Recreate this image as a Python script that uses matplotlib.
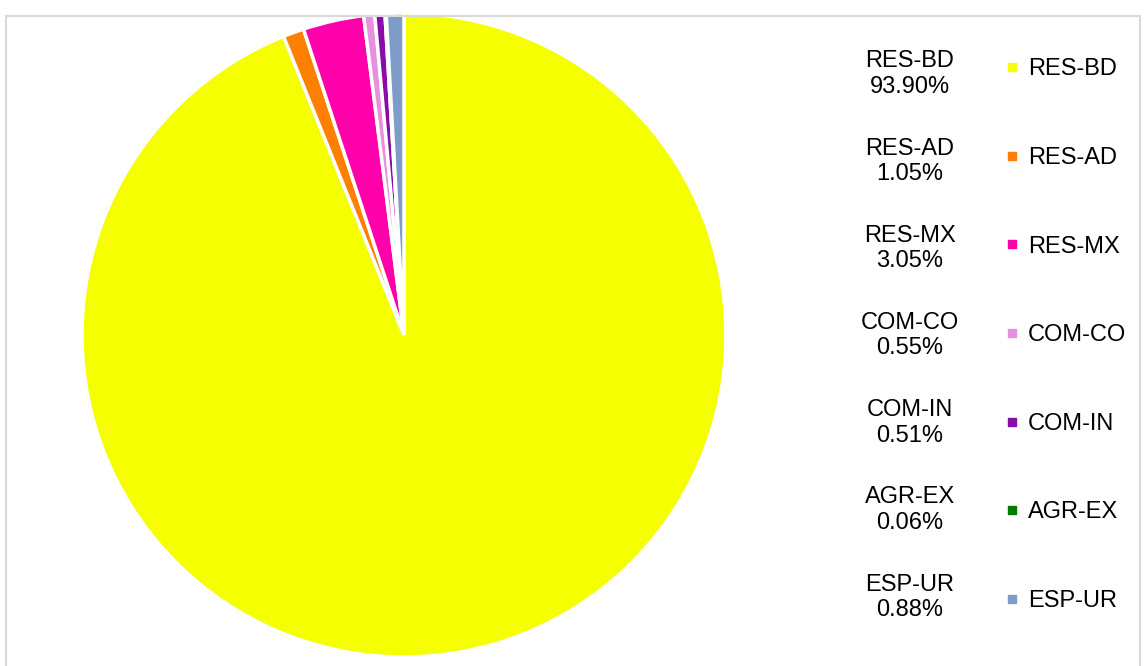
import matplotlib.pyplot as plt
from matplotlib.lines import Line2D
from matplotlib.patches import Rectangle

plt.rcParams['font.family'] = ['Liberation Sans', 'DejaVu Sans']

categories = ["RES-BD", "RES-AD", "RES-MX", "COM-CO", "COM-IN", "AGR-EX", "ESP-UR"]
shares = [93.90, 1.05, 3.05, 0.55, 0.51, 0.06, 0.88]
colors = ["#F5FF00", "#FF8000", "#FF00AA", "#E890E0", "#8A0CA8", "#007A00", "#7F9CC8"]

fig = plt.figure(figsize=(11.45, 6.66), dpi=100)

# light grey chart border
fig.patches.append(Rectangle((6 / 1145, -0.01), 1134 / 1145, 0.986, transform=fig.transFigure,
                             fill=False, edgecolor="#D9D9D9", linewidth=1.5))

ax = fig.add_axes([0.0716, 0.0135, 0.5624, 0.967])
ax.pie(shares, colors=colors, startangle=90, counterclock=False,
       wedgeprops=dict(edgecolor="white", linewidth=2.5))
ax.set_xlim(-1.0, 1.0)
ax.set_ylim(-1.0, 1.0)
ax.set_aspect("equal")

# data labels column on the right
y0 = 1 - 74 / 666
step = 87.2 / 666
for i, (cat, val) in enumerate(zip(categories, shares)):
    fig.text(910 / 1145, y0 - i * step, f"{cat}\n{val:.2f}%", ha="center", va="center",
             fontsize=17, linespacing=1.2)

handles = [Line2D([], [], marker="s", linestyle="none", markersize=6,
                  markerfacecolor=c, markeredgecolor=c) for c in colors]
fig.legend(handles, categories, loc="upper left", bbox_to_anchor=(995 / 1145, 1 - 49 / 666),
           frameon=False, fontsize=17, labelspacing=2.82, handlelength=0.6,
           handletextpad=0.4, borderaxespad=0)

fig.savefig("out.png", dpi=100)
